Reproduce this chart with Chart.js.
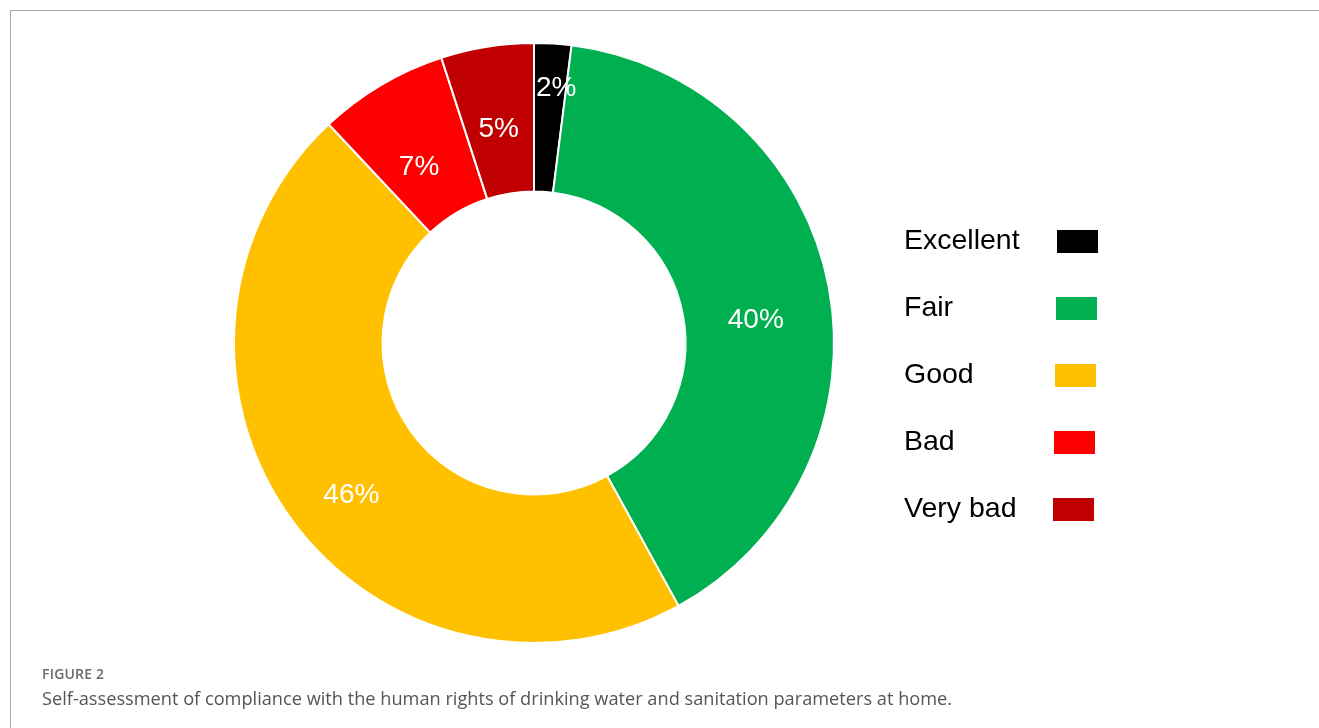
<!DOCTYPE html>
<html>
<head>
<meta charset="utf-8">
<script src="https://cdn.jsdelivr.net/npm/chart.js@4"></script>
<style>
  html, body { margin: 0; padding: 0; background: #fff; }
  body { width: 1319px; height: 728px; position: relative; overflow: hidden; }
  #frame { position: absolute; left: 10px; top: 10px; width: 1400px; height: 800px;
           border-left: 1px solid #a9a9a9; border-top: 1px solid #a9a9a9; }
  #chartBox { position: absolute; left: 0; top: 0; width: 1319px; height: 728px; }
  .fig-num { position: absolute; left: 42px; top: 664px; font-family: "Open Sans", sans-serif;
             font-size: 14px; font-weight: 600; color: #6b6b6b; letter-spacing: 0.2px; }
  .fig-cap { position: absolute; left: 42px; top: 686px; font-family: "Open Sans", sans-serif;
             font-size: 18.2px; color: #555; }
</style>
</head>
<body>
<div id="frame"></div>
<div id="chartBox"><canvas id="donut"></canvas></div>
<div class="fig-num">FIGURE 2</div>
<div class="fig-cap">Self-assessment of compliance with the human rights of drinking water and sanitation parameters at home.</div>

<script>
// --- Data ---
const categories = ['Excellent', 'Fair', 'Good', 'Bad', 'Very bad'];
const shares = [2, 40, 46, 7, 5];
const colors = ['#000000', '#00B050', '#FFC000', '#FF0000', '#C00000'];

// small nudges so labels sit where the original figure put them (px)
const labelNudge = [[8, -29], [0, 20], [0, 20], [0, 19], [0, 9]];

const sliceLabels = {
    id: 'sliceLabels',
    afterDatasetsDraw(chart) {
        const ctx = chart.ctx;
        const meta = chart.getDatasetMeta(0);
        ctx.save();
        ctx.fillStyle = '#ffffff';
        ctx.font = '28px "Liberation Sans", Arial, sans-serif';
        ctx.textAlign = 'center';
        ctx.textBaseline = 'middle';
        meta.data.forEach((arc, i) => {
            const p = arc.tooltipPosition();
            const n = labelNudge[i] || [0, 0];
            ctx.fillText(shares[i] + '%', p.x + n[0], p.y + n[1]);
        });
        ctx.restore();
    }
};

// legend on the right: text first, swatch after it
const sideLegend = {
    id: 'sideLegend',
    afterDraw(chart) {
        const ctx = chart.ctx;
        const x0 = 904, y0 = 241, step = 67;
        ctx.save();
        ctx.font = '28.5px "Liberation Sans", Arial, sans-serif';
        ctx.textBaseline = 'middle';
        ctx.textAlign = 'left';
        chart.data.labels.forEach((lab, i) => {
            const y = y0 + i * step;
            ctx.fillStyle = '#000';
            ctx.fillText(lab, x0, y);
            ctx.fillStyle = chart.data.datasets[0].backgroundColor[i];
            ctx.fillRect(1057 - i, y - 11, 41, 23);
        });
        ctx.restore();
    }
};

new Chart(document.getElementById('donut'), {
    type: 'doughnut',
    data: {
        labels: categories,
        datasets: [{
            data: shares,
            backgroundColor: colors,
            borderColor: '#ffffff',
            borderWidth: 2
        }]
    },
    options: {
        responsive: true,
        maintainAspectRatio: false,
        animation: false,
        cutout: '50.5%',
        layout: { padding: { left: 233, right: 484, top: 42, bottom: 84 } },
        plugins: {
            legend: { display: false },
            tooltip: { enabled: false }
        }
    },
    plugins: [sliceLabels, sideLegend]
});
</script>
</body>
</html>
